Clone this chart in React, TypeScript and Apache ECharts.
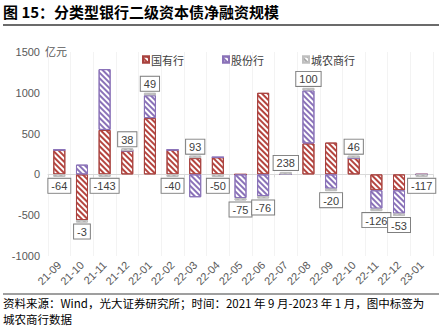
import React, { useEffect, useRef } from "react";
import * as echarts from "echarts";

const categories = ["21-09", "21-10", "21-11", "21-12", "22-01", "22-02", "22-03", "22-04", "22-05", "22-06", "22-07", "22-08", "22-09", "22-10", "22-11", "22-12", "23-01"];
const stateOwned = [300, -560, 545, 290, 690, 300, 200, 210, 0, 1000, 0, 380, 390, 200, -195, -195, 0];
const jointStock = [0, 120, 745, 0, 280, 0, -280, 0, -290, -265, 0, 650, -175, 0, -225, -285, 0];
// 城农商行 values shown in the labels
const cityRural = [-64, -3, -143, 38, 49, -40, 93, -50, -75, -76, 238, 100, -20, 46, -126, -53, -117];
// drawn height of the 城农商行 stub as it appears in the picture
const cityRuralBar = [-30, -30, -30, 30, 30, -30, 30, -30, -30, -30, 30, 30, -30, 30, -30, -30, -30];
const yTicks = { min: -1000, max: 1500, interval: 500 };

const FONT = "'Noto Sans CJK SC', 'Noto Sans', sans-serif";
const NUMFONT = "'Liberation Sans', Arial, sans-serif";

function hatch(color: string) {
  return {
    symbol: "rect",
    symbolSize: 1,
    color,
    dashArrayX: [1, 0],
    dashArrayY: [1.3, 1.7],
    rotation: Math.PI / 4,
  };
}

export default function App() {
  const ref = useRef<HTMLDivElement>(null);
  useEffect(() => {
    if (!ref.current) return;
    const chart = echarts.init(ref.current, null, { renderer: "svg" });
    const option: any = {
      animation: false,
      backgroundColor: "#ffffff",
      textStyle: { fontFamily: FONT },
      grid: { left: 48, right: 10, top: 52, bottom: 73, containLabel: false },
      legend: {
        left: 137,
        top: 49,
        itemWidth: 6,
        itemHeight: 6,
        itemGap: 38,
        icon: "rect",
        textStyle: { fontSize: 11, color: "#404040", fontFamily: FONT, padding: [0, 0, 0, -3] },
        data: ["国有行", "股份行", "城农商行"],
      },
      xAxis: [
        {
          type: "category",
          data: categories,
          position: "bottom",
          axisLine: { show: false, onZero: false },
          axisTick: { show: false },
          axisLabel: { rotate: 45, fontSize: 11, color: "#595959", margin: 7, fontFamily: NUMFONT },
          splitLine: { show: true, lineStyle: { color: "#f3f3f3", width: 1 } },
        },
        {
          type: "category",
          data: categories,
          position: "bottom",
          axisLine: { show: true, onZero: true, lineStyle: { color: "#d9d9d9", width: 1 } },
          axisTick: { show: true, length: 3, lineStyle: { color: "#d9d9d9" } },
          axisLabel: { show: false },
          splitLine: { show: false },
        },
      ],
      yAxis: {
        type: "value",
        min: yTicks.min,
        max: yTicks.max,
        interval: yTicks.interval,
        axisLine: { show: false },
        axisTick: { show: false },
        splitLine: { show: false },
        axisLabel: {
          fontSize: 11,
          color: "#595959",
          margin: 8,
          fontFamily: NUMFONT,
          formatter: (v: number) => String(v),
        },
      },
      series: [
        {
          name: "国有行",
          type: "bar",
          stack: "total",
          barWidth: 12,
          data: stateOwned,
          itemStyle: { color: "#ffffff", borderColor: "#a8423f", borderWidth: 1, decal: hatch("#b5453f") },
        },
        {
          name: "股份行",
          type: "bar",
          stack: "total",
          barWidth: 12,
          data: jointStock,
          itemStyle: { color: "#ffffff", borderColor: "#8a72b8", borderWidth: 1, decal: hatch("#8a72b8") },
        },
        {
          name: "城农商行",
          type: "bar",
          stack: "total",
          barWidth: 12,
          data: cityRuralBar.map((v, i) => ({
            value: v,
            label: { position: cityRural[i] >= 0 ? "top" : "bottom" },
          })),
          itemStyle: { color: "#ffffff", borderColor: "#bfbfbf", borderWidth: 1, decal: hatch("#a6a6a6") },
          label: {
            show: true,
            distance: 2,
            formatter: (p: any) => String(cityRural[p.dataIndex]),
            fontSize: 11,
            color: "#404040",
            fontFamily: NUMFONT,
            backgroundColor: "#ffffff",
            borderColor: "#7f7f7f",
            borderWidth: 1,
            padding: [2, 3, 1, 3],
          },
          z: 3,
        },
      ],
      graphic: [
        {
          type: "text",
          left: 3,
          top: 4,
          style: { text: "图 15：分类型银行二级资本债净融资规模", font: `bold 15px ${FONT}`, fill: "#000000" },
        },
        { type: "line", shape: { x1: 3, y1: 25, x2: 439, y2: 25 }, style: { stroke: "#3a3a3a", lineWidth: 1.5 } },
        {
          type: "text",
          left: 45,
          top: 45,
          style: { text: "亿元", font: `11px ${FONT}`, fill: "#595959" },
        },
        { type: "line", shape: { x1: 3, y1: 294, x2: 439, y2: 294 }, style: { stroke: "#7f7f7f", lineWidth: 1.5 } },
        {
          type: "text",
          x: 3,
          y: 302.5,
          style: {
            text: "资料来源：Wind，光大证券研究所；时间：2021 年 9 月-2023 年 1 月，图中标签为",
            font: `11.5px ${FONT}`,
            fill: "#000000",
            verticalAlign: "middle",
          },
        },
        {
          type: "text",
          x: 3,
          y: 319,
          style: {
            text: "城农商行数据",
            font: `11.5px ${FONT}`,
            fill: "#000000",
            verticalAlign: "middle",
          },
        },
      ],
    };
    chart.setOption(option);
    return () => chart.dispose();
  }, []);
  return (
    <div
      ref={ref}
      style={{ position: "fixed", left: 0, top: 0, width: 443, height: 329, background: "#fff" }}
    />
  );
}
